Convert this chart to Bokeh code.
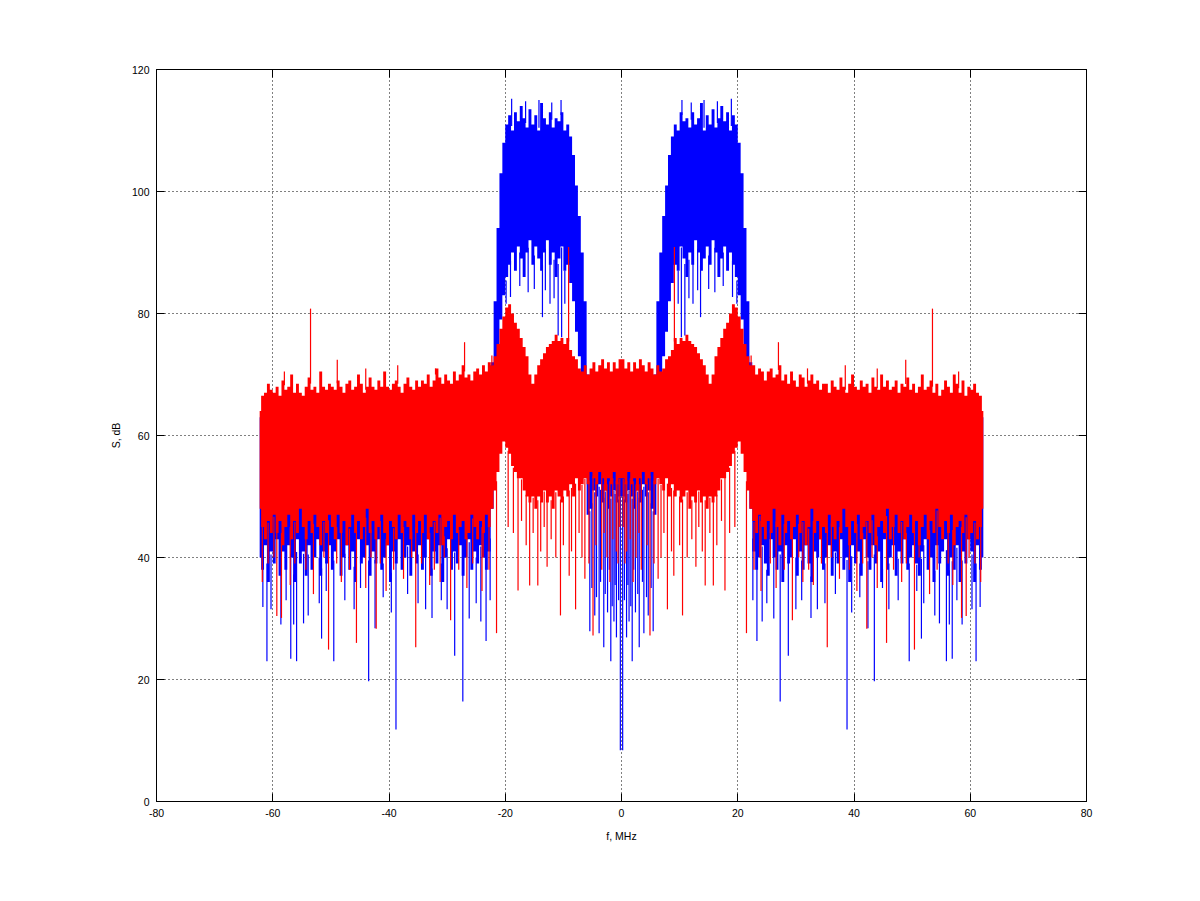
import numpy as np
from bokeh.plotting import figure
from bokeh.models import Range1d, FixedTicker, LinearAxis
from bokeh.embed import file_html
from bokeh.resources import INLINE

# ---------------- axes ----------------
x_ticks = [-80, -60, -40, -20, 0, 20, 40, 60, 80]
x_tick_labels = ["-80", "-60", "-40", "-20", "0", "20", "40", "60", "80"]
y_ticks = [0, 20, 40, 60, 80, 100, 120]
y_tick_labels = ["0", "20", "40", "60", "80", "100", "120"]

# frequency bins, 0.5 MHz wide, covering -62.5 ... 62.5 MHz
bin_width = 0.5
f_centers = np.arange(250) * bin_width - 62.25

# ---------------- red trace (upper / lower envelope per bin, dB) ----------------
red_max_neg = [
    64, 66.5, 67, 68.5, 67.5,
    67, 68, 66.5, 69, 67.5, 68, 70, 67, 68.5, 67, 66.5, 68, 69.5, 67.5, 68, 67, 70.5, 68, 67.5, 68.5,
    68, 67.5, 69, 68, 67, 68.5, 69, 67.5, 68, 70, 68.5, 67, 68, 69.5, 68, 67.5, 69, 68, 70.5, 68,
    67.5, 68.5, 69, 68, 67, 68.5, 69.5, 68, 67.5, 69,
    68, 69, 68.5, 70, 68, 69, 71, 69.5, 68.5, 70, 69, 68.5, 70.5, 69, 70, 71.5, 69.5, 70, 69, 70.5,
    71, 70, 71.5, 70.5, 72,
    71.5, 73, 75, 77.5, 79.5, 81, 81.5, 80, 78.5, 77.5, 76, 74.5, 73, 70, 68.5, 70, 71.5, 72.5, 73.5, 74.5,
    75, 75.5, 76.5, 75.5, 76, 75, 76, 74, 73, 72.5, 71, 70.5, 71.5, 70, 71, 72, 70.5, 71.5, 72.5, 71,
    72, 70.5, 72, 71, 72.5]
red_max_pos = [
    72.5, 71, 72, 70.5, 72, 71, 72.5, 71.5, 70.5, 72, 71, 70, 71.5, 70.5, 71, 72.5, 73, 74, 76, 75,
    76, 75.5, 76.5, 75.5, 75, 74.5, 73.5, 72.5, 71.5, 70, 68.5, 70, 73, 74.5, 76, 77.5, 78.5, 80, 81.5, 81,
    79.5, 77.5, 75, 73, 71.5,
    71.5, 70, 71, 70.5, 69, 70.5, 71, 69.5, 70, 71.5, 69, 70, 68.5, 70.5, 69, 68, 70, 69.5, 68, 69,
    70, 68.5, 69, 67.5, 68.5,
    68.5, 67, 69, 68, 67.5, 69.5, 68, 67, 68.5, 70, 68, 67.5, 69, 68, 68.5, 67, 69.5, 68, 67.5, 70,
    68, 69, 67.5, 68, 69, 67, 68.5, 68, 69.5, 67.5,
    68.5, 67, 68, 70, 67.5, 68, 69, 67, 68.5, 66.5, 67.5, 69, 68, 67, 70, 68.5, 67, 69, 66.5, 68,
    67.5, 68.5, 67, 66.5, 64]
red_min_neg = [
    48, 45, 43, 46, 44,
    47, 44, 46, 42, 45, 47, 43, 46, 44, 48, 45, 43, 46, 44, 47, 45, 42, 46, 44, 47,
    45, 43, 47, 44, 46, 42, 45, 47, 44, 46, 43, 45, 48, 44, 46, 43, 45, 47, 44, 42,
    46, 45, 43, 47, 44, 46, 45, 43, 47, 44,
    46, 44, 47, 43, 45, 46, 44, 47, 42, 45, 46, 43, 47, 44, 45, 46, 43, 44, 47, 45,
    43, 46, 44, 47, 45,
    48, 51, 54, 57, 59, 58, 57, 55, 54, 53, 53, 51, 50, 49, 50, 48, 50, 49, 51, 49,
    50, 48, 51, 50, 49, 51, 50, 52, 50, 53, 51, 52, 53, 52, 54, 53, 52, 54, 53, 51,
    53, 52, 54, 52, 53]
red_min_pos = [
    53, 52, 54, 52, 53, 51, 53, 54, 52, 53, 54, 52, 53, 52, 51, 53, 50, 52, 50, 51,
    49, 50, 51, 48, 50, 49, 51, 49, 50, 48, 50, 49, 50, 51, 53, 53, 54, 55, 57, 58,
    59, 57, 54, 51, 48,
    46, 44, 47, 45, 43, 46, 44, 48, 45, 42, 47, 44, 46, 43, 45, 47, 44, 46, 42, 45,
    48, 44, 46, 43, 45,
    44, 47, 45, 43, 46, 44, 48, 45, 42, 46, 44, 47, 43, 45, 46, 44, 47, 42, 45, 46,
    44, 48, 43, 45, 47, 44, 46, 43, 45, 47,
    44, 46, 42, 45, 47, 43, 46, 44, 48, 45, 43, 46, 44, 47, 42, 45, 46, 44, 47, 43,
    44, 46, 43, 45, 48]

# ---------------- blue trace (upper / lower envelope per bin, dB) ----------------
blue_max_neg = [
    63, 63, 63, 63, 63, 63, 63, 63, 63, 63, 63, 63, 63, 63, 63, 63, 63, 63, 63, 63,
    63, 63, 63, 63, 63, 63, 63, 63, 63, 63, 63, 63, 63, 63, 63, 63, 63, 63, 63, 63,
    63, 63, 63, 63, 63, 63, 63, 63, 63, 63, 63, 63, 63, 63, 63, 63, 63, 63, 63, 63,
    63, 63, 63, 63, 63, 63, 63, 63, 63, 63, 63, 63, 63, 63, 63, 63, 63, 63, 63, 63,
    72, 82, 94, 103, 108, 111, 112.5, 110, 113, 111.5, 114, 112, 110.5, 113.5, 111, 112.5, 110, 114.5, 112, 111,
    113, 110.5, 112, 111.5, 113, 110, 111, 109, 106, 101, 96, 90, 82, 70, 63, 63, 63, 63, 63, 63,
    63, 63, 63, 63, 63]
blue_max_pos = [
    63, 63, 63, 63, 63, 63, 63, 63, 63, 63, 63, 70, 82, 90, 96, 101, 106, 109, 111, 110,
    113, 111.5, 112, 110.5, 113, 111, 112, 114.5, 110, 112.5, 111, 113.5, 110.5, 112, 114, 111.5, 113, 110, 112.5, 111,
    108, 103, 94, 82, 72,
    63, 63, 63, 63, 63, 63, 63, 63, 63, 63, 63, 63, 63, 63, 63, 63, 63, 63, 63, 63,
    63, 63, 63, 63, 63, 63, 63, 63, 63, 63, 63, 63, 63, 63, 63, 63, 63, 63, 63, 63,
    63, 63, 63, 63, 63, 63, 63, 63, 63, 63, 63, 63, 63, 63, 63, 63, 63, 63, 63, 63,
    63, 63, 63, 63, 63, 63, 63, 63, 63, 63, 63, 63, 63, 63, 63, 63, 63, 63, 63, 63]
blue_min_neg = [
    40, 38, 42, 36, 41,
    39, 43, 37, 41, 38, 42, 40, 36, 43, 39, 41, 37, 42, 38, 40, 43, 37, 41, 39, 42,
    38, 41, 43, 37, 40, 42, 38, 41, 36, 43, 39, 40, 42, 37, 41, 39, 43, 38, 40, 42,
    36, 41, 39, 43, 38, 40, 42, 37, 41, 39,
    42, 38, 40, 43, 37, 41, 39, 42, 36, 40, 43, 38, 41, 39, 42, 37, 40, 43, 38, 41,
    39, 42, 40, 38, 41,
    48, 62, 72, 79, 83, 86, 88, 90, 87, 91, 89, 86, 90, 92, 88, 91, 89, 87, 90, 92,
    88, 90, 86, 89, 91, 87, 88, 85, 82, 77, 73, 68, 60, 47, 48, 51, 50, 52, 49, 51,
    48, 50, 51, 49, 50]
blue_min_pos = [
    50, 49, 51, 50, 48, 51, 49, 52, 50, 51, 48, 47, 60, 68, 73, 77, 82, 85, 88, 87,
    91, 89, 86, 90, 88, 92, 90, 87, 89, 91, 88, 92, 90, 86, 89, 91, 87, 90, 88, 86,
    83, 79, 72, 62, 48,
    41, 38, 40, 42, 39, 37, 43, 40, 38, 41, 36, 42, 39, 40, 43, 37, 41, 38, 42, 39,
    36, 41, 40, 43, 38,
    40, 42, 37, 41, 39, 43, 38, 40, 36, 42, 39, 41, 37, 43, 40, 38, 42, 39, 41, 36,
    43, 38, 40, 42, 37, 41, 39, 43, 38, 40,
    42, 39, 37, 41, 43, 38, 40, 36, 42, 39, 41, 43, 37, 40, 38, 42, 36, 41, 39, 43,
    41, 36, 42, 38, 40]

# ---------------- isolated spikes (frequency MHz, tip dB) ----------------
blue_dip_f_neg = [-61.7, -61.0, -60.3, -58.6, -57.7, -56.9, -56.4, -55.9, -54.7, -53.9, -52.0, -51.6, -50.8,
                  -49.5, -47.6, -46.0, -44.9, -43.5, -42.4, -41.0, -39.6, -38.8, -36.8, -35.0, -33.7, -32.6,
                  -31.0, -30.0, -28.7, -27.3, -26.2, -25.0, -24.2, -23.3, -22.6,
                  -19.85, -19.1, -17.5, -16.06, -15.0, -13.6, -13.1, -12.3, -11.6, -10.9, -10.3, -9.75,
                  -5.45, -5.1, -4.6, -4.3, -3.85, -3.6, -3.05, -2.8, -2.4, -2.1, -1.84, -1.6, -1.3, -1.1,
                  -0.87, -0.5, -0.2]
blue_dip_db_neg = [31.9, 23.0, 31.5, 29.0, 33.0, 23.4, 29.0, 23.0, 29.2, 30.5, 32.5, 26.7, 34.5,
                   23.0, 33.0, 31.5, 35.0, 19.7, 28.4, 33.5, 31.0, 11.8, 34.0, 32.5, 31.5, 30.1,
                   33.0, 31.5, 23.9, 16.4, 30.0, 32.5, 29.5, 26.3, 33.0,
                   81.6, 82.7, 84.5, 83.5, 84.0, 79.4, 83.8, 81.6, 82.5, 76.4, 76.1, 81.6,
                   27.9, 35.0, 30.5, 33.5, 27.6, 36.0, 25.3, 34.0, 31.0, 38.0, 23.0, 32.0, 29.5, 35.5,
                   26.9, 33.0, 8.4]
blue_dip_f_pos = [0.2, 0.5, 0.87, 1.1, 1.3, 1.6, 1.84, 2.1, 2.4, 2.8, 3.05, 3.6, 3.85, 4.3, 4.6, 5.1, 5.45,
                  9.75, 10.3, 10.9, 11.6, 12.3, 13.1, 13.6, 15.0, 16.06, 17.5, 19.1, 19.85,
                  22.6, 23.3, 24.2, 25.0, 26.2, 27.3, 28.7, 30.0, 31.0, 32.6, 33.7, 35.0, 36.8, 38.8,
                  39.6, 41.0, 42.4, 43.5, 44.9, 46.0, 47.6, 49.5, 50.8, 51.6, 52.0, 53.9, 54.7, 55.9,
                  56.4, 56.9, 57.7, 58.6, 60.3, 61.0, 61.7]
blue_dip_db_pos = [8.4, 33.0, 26.9, 35.5, 29.5, 32.0, 23.0, 38.0, 31.0, 34.0, 25.3, 36.0, 27.6, 33.5, 30.5, 35.0, 27.9,
                   81.6, 76.1, 76.4, 82.5, 81.6, 83.8, 79.4, 84.0, 83.5, 84.5, 82.7, 81.6,
                   33.0, 26.3, 29.5, 32.5, 30.0, 16.4, 23.9, 31.5, 33.0, 30.1, 31.5, 32.5, 34.0, 11.8,
                   31.0, 33.5, 28.4, 19.7, 35.0, 31.5, 33.0, 23.0, 34.5, 26.7, 32.5, 30.5, 29.2, 23.0,
                   29.0, 23.4, 33.0, 29.0, 31.5, 23.0, 31.9]
blue_peak_f = [-18.9, -16.5, -14.2, -12.0, -10.4, 10.4, 12.0, 14.2, 16.5, 18.9]
blue_peak_db = [115.2, 114.8, 115.0, 114.6, 115.0, 115.0, 114.6, 115.0, 114.8, 115.2]

red_dip_f_neg = [-61.8, -60.8, -59.8, -59.3, -58.5, -57.0, -56.2, -54.3, -53.0, -51.2, -50.4, -49.0, -48.2,
                 -46.8, -45.6, -44.0, -43.1, -42.2, -41.5, -40.5, -39.2, -37.5, -36.1, -35.4, -34.4, -33.0,
                 -32.2, -31.2, -30.5, -29.4, -28.0, -26.6, -25.6, -24.0, -23.8, -22.8, -21.5,
                 -19.5, -18.6, -17.8, -17.2, -16.4, -15.8, -15.2, -14.4, -13.9, -13.3, -12.8, -12.1,
                 -11.3, -10.5, -10.0, -9.0, -8.6, -7.9, -7.3, -6.8, -6.3, -5.6, -4.9, -4.4, -3.4,
                 -3.0, -2.5, -2.0, -1.5, -0.9, -0.6, -0.3]
red_dip_db_neg = [36.0, 39.0, 40.0, 30.4, 30.1, 35.5, 39.0, 38.0, 34.0, 40.0, 24.9, 39.0, 36.0,
                  38.0, 26.0, 35.0, 40.0, 28.3, 39.0, 34.5, 38.0, 36.5, 40.0, 25.3, 39.0, 35.5,
                  38.0, 36.0, 40.0, 29.7, 38.0, 35.0, 39.0, 34.5, 40.0, 38.0, 27.6,
                  45.0, 44.0, 34.6, 46.0, 42.0, 35.4, 44.0, 35.4, 41.0, 45.0, 38.5, 43.0,
                  40.0, 30.5, 42.0, 37.0, 41.0, 31.5, 44.0, 40.0, 36.5, 39.0, 27.2, 42.0, 38.0,
                  44.0, 40.0, 36.0, 43.0, 41.0, 39.0, 45.0]
red_dip_f_pos = [0.3, 0.6, 0.9, 1.5, 2.0, 2.5, 3.0, 3.4, 4.4, 4.9, 5.6, 6.3, 6.8, 7.3, 7.9, 8.6, 9.0,
                 10.0, 10.5, 11.3, 12.1, 12.8, 13.3, 13.9, 14.4, 15.2, 15.8, 16.4, 17.2, 17.8, 18.6, 19.5,
                 21.5, 22.8, 23.8, 24.0, 25.6, 26.6, 28.0, 29.4, 30.5, 31.2, 32.2, 33.0, 34.4, 35.4,
                 36.1, 37.5, 39.2, 40.5, 41.5, 42.2, 43.1, 44.0, 45.6, 46.8, 48.2, 49.0, 50.4, 51.2,
                 53.0, 54.3, 56.2, 57.0, 58.5, 59.3, 59.8, 60.8, 61.8]
red_dip_db_pos = [45.0, 39.0, 41.0, 43.0, 36.0, 40.0, 44.0, 38.0, 42.0, 27.2, 39.0, 36.5, 40.0, 44.0, 31.5, 41.0, 37.0,
                  42.0, 30.5, 40.0, 43.0, 38.5, 45.0, 41.0, 35.4, 44.0, 35.4, 42.0, 46.0, 34.6, 44.0, 45.0,
                  27.6, 38.0, 40.0, 34.5, 39.0, 35.0, 38.0, 29.7, 40.0, 36.0, 38.0, 35.5, 39.0, 25.3,
                  40.0, 36.5, 38.0, 34.5, 39.0, 28.3, 40.0, 35.0, 26.0, 38.0, 36.0, 39.0, 24.9, 40.0,
                  34.0, 38.0, 39.0, 35.5, 30.1, 30.4, 40.0, 39.0, 36.0]
red_peak_f = [-58.0, -53.5, -48.9, -44.0, -38.5, -32.0, -27.0, -22.3, -9.1,
              9.1, 22.3, 27.0, 32.0, 38.5, 44.0, 48.9, 53.5, 58.0]
red_peak_db = [70.5, 80.8, 72.4, 71.0, 71.5, 71.0, 75.3, 73.1, 90.9,
               90.9, 73.1, 75.3, 71.0, 71.5, 71.0, 72.4, 80.8, 70.5]

red_max = np.array(red_max_neg + red_max_pos, dtype=float)
red_min = np.array(red_min_neg + red_min_pos, dtype=float)
blue_max = np.array(blue_max_neg + blue_max_pos, dtype=float)
blue_min = np.array(blue_min_neg + blue_min_pos, dtype=float)
for arr in (red_max, red_min, blue_max, blue_min):
    assert len(arr) == 250, len(arr)
blue_dip_f = blue_dip_f_neg + blue_dip_f_pos
blue_dip_db = blue_dip_db_neg + blue_dip_db_pos
red_dip_f = red_dip_f_neg + red_dip_f_pos
red_dip_db = red_dip_db_neg + red_dip_db_pos
assert len(blue_dip_f) == len(blue_dip_db), (len(blue_dip_f), len(blue_dip_db))
assert len(red_dip_f) == len(red_dip_db), (len(red_dip_f), len(red_dip_db))
assert len(red_peak_f) == len(red_peak_db)

BLUE = "#0000ff"
RED = "#ff0000"
FONT = "Liberation Sans"

p = figure(width=1192, height=893, x_range=Range1d(-80, 80), y_range=Range1d(0, 120),
           output_backend="svg", toolbar_location=None,
           min_border_left=156, min_border_right=106, min_border_top=69, min_border_bottom=92)
p.background_fill_color = "white"
p.border_fill_color = "white"
p.outline_line_color = "black"
p.outline_line_width = 1
p.outline_line_alpha = 1.0

# blue trace: one stepped filled band + isolated spikes
p.varea_step(x=f_centers, y1=blue_min, y2=blue_max, step_mode="center", fill_color=BLUE)
p.segment(x0=blue_dip_f, x1=blue_dip_f, y0=np.interp(blue_dip_f, f_centers, blue_min), y1=blue_dip_db,
          line_color=BLUE, line_width=1.2)
p.segment(x0=blue_peak_f, x1=blue_peak_f, y0=np.interp(blue_peak_f, f_centers, blue_max), y1=blue_peak_db,
          line_color=BLUE, line_width=1.2)

# red trace
p.varea_step(x=f_centers, y1=red_min, y2=red_max, step_mode="center", fill_color=RED)
p.segment(x0=red_dip_f, x1=red_dip_f, y0=np.interp(red_dip_f, f_centers, red_min), y1=red_dip_db,
          line_color=RED, line_width=1.2)
p.segment(x0=red_peak_f, x1=red_peak_f, y0=np.interp(red_peak_f, f_centers, red_max), y1=red_peak_db,
          line_color=RED, line_width=1.2)

# grid
for g in (p.xgrid, p.ygrid):
    g.grid_line_color = "black"
    g.grid_line_dash = "1 3"
    g.grid_line_width = 1
    g.grid_line_alpha = 1.0
p.xgrid.ticker = FixedTicker(ticks=x_ticks)
p.ygrid.ticker = FixedTicker(ticks=y_ticks)


def style_axis(ax, ticks, labels, show_labels):
    ax.ticker = FixedTicker(ticks=ticks)
    ax.major_label_overrides = {t: (l if show_labels else "") for t, l in zip(ticks, labels)}
    ax.major_tick_in = 8
    ax.major_tick_out = 0
    ax.minor_tick_line_color = None
    ax.axis_line_color = "black"
    ax.major_tick_line_color = "black"
    ax.major_label_text_font = FONT
    ax.major_label_text_font_size = "10.5px"
    ax.major_label_text_color = "black"
    ax.major_label_standoff = 7
    ax.axis_label_text_font = FONT
    ax.axis_label_text_font_size = "10.5px"
    ax.axis_label_text_font_style = "normal"
    ax.axis_label_text_color = "black"


style_axis(p.xaxis[0], x_ticks, x_tick_labels, True)
style_axis(p.yaxis[0], y_ticks, y_tick_labels, True)
p.xaxis[0].axis_label = "f, MHz"
p.yaxis[0].axis_label = "S, dB"
p.xaxis[0].axis_label_standoff = 10
p.yaxis[0].axis_label_standoff = 7

top_axis = LinearAxis()
style_axis(top_axis, x_ticks, x_tick_labels, False)
p.add_layout(top_axis, "above")
right_axis = LinearAxis()
style_axis(right_axis, y_ticks, y_tick_labels, False)
p.add_layout(right_axis, "right")

open("out.html", "w").write(file_html(p, INLINE))
